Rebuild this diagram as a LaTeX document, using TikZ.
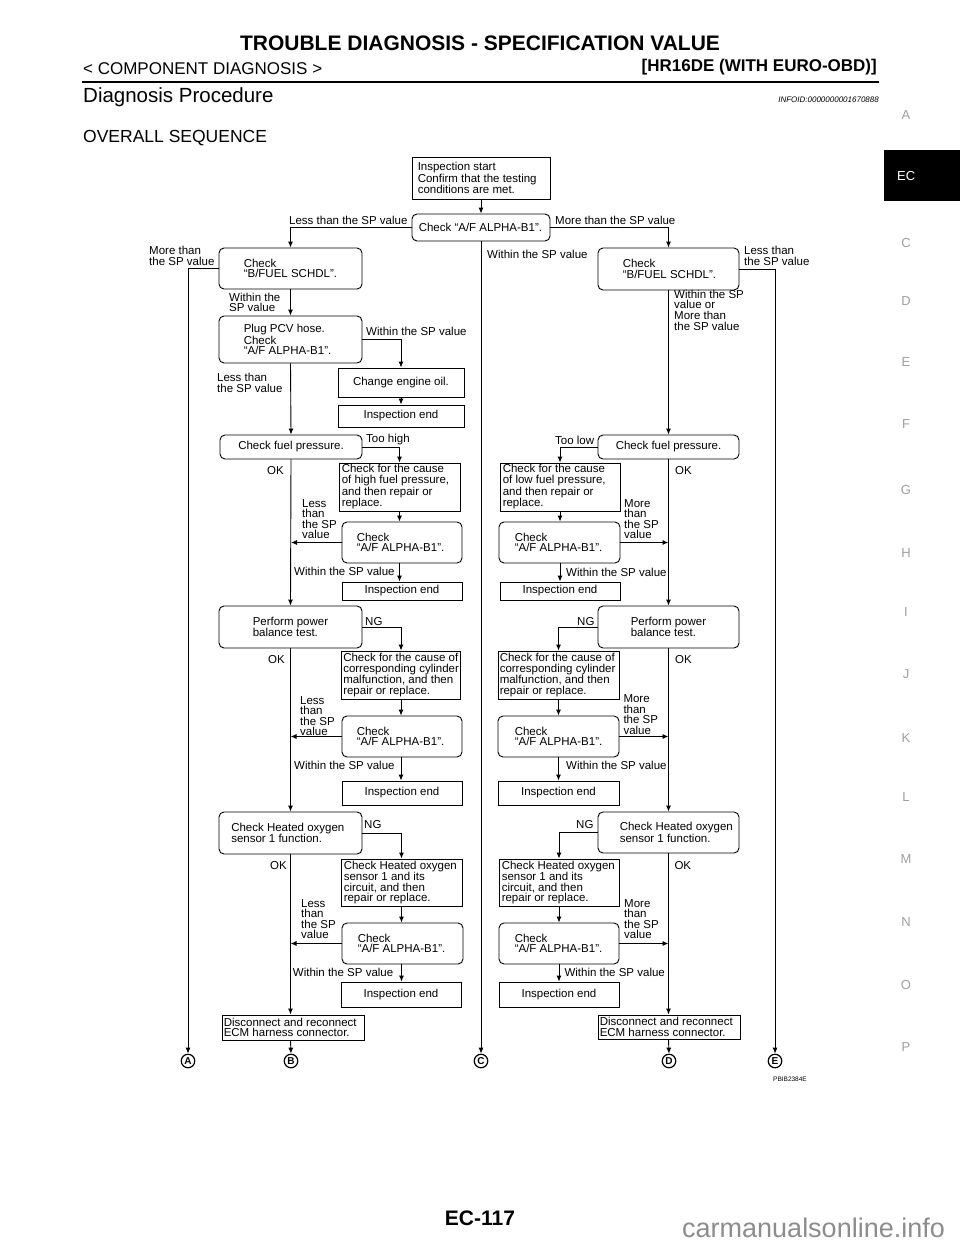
\documentclass[tikz,border=0pt]{standalone}
\usepackage{fontspec}
\setmainfont{Liberation Sans}
\usetikzlibrary{arrows.meta}
\newcommand{\ffs}{\fontsize{11.5pt}{10.6pt}\selectfont}
\begin{document}
\begin{tikzpicture}[x=1pt,y=-1pt,
  ln/.style={line width=0.9pt},
  arr/.style={line width=0.9pt,-{Latex[length=6pt,width=5pt]}},
  sbox/.style={draw,line width=0.9pt,inner sep=0pt,font=\ffs,align=center},
  rbox/.style={sbox,rounded corners=5pt},
  txt/.style={inner sep=0pt,font=\ffs,align=left},
  tl/.style 2 args={label={[txt,anchor=west,xshift=#1]west:{#2}}},
  circ/.style={draw,circle,line width=1.2pt,inner sep=0pt,minimum size=13.5pt,font=\bfseries\fontsize{10pt}{10pt}\selectfont},
  tab/.style={text=black!38,font=\fontsize{13pt}{13pt}\selectfont,inner sep=0pt},
  hd/.style={inner sep=0pt}
]
\useasboundingbox (0,0) rectangle (960,1242);
% ---------- header ----------
\node[hd,font=\bfseries\fontsize{21pt}{21pt}\selectfont] (title) at (480,43.3) {TROUBLE DIAGNOSIS - SPECIFICATION VALUE};
\node[hd,anchor=west,font=\fontsize{17pt}{17pt}\selectfont] (comp) at (83,69) {< COMPONENT DIAGNOSIS >};
\node[hd,anchor=east,font=\bfseries\fontsize{17pt}{17pt}\selectfont] (hr) at (877,67) {[HR16DE (WITH EURO-OBD)]};
\draw[line width=2pt] (82,81.5) -- (879,81.5);
\node[hd,anchor=west,font=\fontsize{20.5pt}{20.5pt}\selectfont] (diag) at (83,97) {Diagnosis Procedure};
\node[hd,anchor=east,font=\itshape\fontsize{8pt}{8pt}\selectfont] (info) at (879,100) {INFOID:0000000001670888};
\node[hd,anchor=west,font=\fontsize{17.5pt}{17.5pt}\selectfont] (overall) at (83,138) {OVERALL SEQUENCE};
% ---------- side tabs ----------
\fill[black] (884,150) rectangle (960,201);
\node[hd,anchor=west,text=white,font=\fontsize{13pt}{13pt}\selectfont] (tEC) at (897,176) {EC};
\node[tab] (tA) at (906,115) {A};
\node[tab] (tC) at (906,243) {C};
\node[tab] (tD) at (906,301) {D};
\node[tab] (tE) at (906,362) {E};
\node[tab] (tF) at (906,424) {F};
\node[tab] (tG) at (906,490) {G};
\node[tab] (tH) at (906,553) {H};
\node[tab] (tI) at (906,612) {I};
\node[tab] (tJ) at (906,674) {J};
\node[tab] (tK) at (906,738) {K};
\node[tab] (tL) at (906,797) {L};
\node[tab] (tM) at (906,859) {M};
\node[tab] (tN) at (906,922) {N};
\node[tab] (tO) at (906,985) {O};
\node[tab] (tP) at (906,1047) {P};
% ---------- footer ----------
\node[hd,font=\bfseries\fontsize{21pt}{21pt}\selectfont] (page) at (480,1218) {EC-117};
\node[hd,anchor=west,text=black!45,font=\fontsize{27pt}{27pt}\selectfont] (wm) at (682,1228) {carmanualsonline.info};
\node[hd,font=\fontsize{6.5pt}{6.5pt}\selectfont] (pbib) at (790,1079) {PBIB2384E};
% ---------- boxes: top ----------
\node[sbox,minimum width=138pt,minimum height=42pt,tl={6pt}{Inspection start\\Confirm that the testing\\conditions are met.}] (start) at (481,178) {};
\node[rbox,minimum width=138pt,minimum height=27pt,tl={7pt}{Check “A/F ALPHA-B1”.}] (chk) at (481,227.5) {};
% ---------- left column ----------
\node[rbox,minimum width=143pt,minimum height=41pt,tl={25pt}{Check\\“B/FUEL SCHDL”.}] (lfuel) at (290.5,268.5) {};
\node[rbox,minimum width=143pt,minimum height=47pt,tl={25pt}{Plug PCV hose.\\Check\\“A/F ALPHA-B1”.}] (pcv) at (290.5,339.5) {};
\node[sbox,minimum width=126pt,minimum height=29pt] (oil) at (401,382.5) {Change engine oil.};
\node[sbox,minimum width=126pt,minimum height=22pt] (iend0) at (401,416) {Inspection end};
\node[rbox,minimum width=142pt,minimum height=24pt] (lfp) at (291,447) {Check fuel pressure.};
\node[sbox,minimum width=121pt,minimum height=48pt,tl={3pt}{Check for the cause\\of high fuel pressure,\\and then repair or\\replace.}] (high) at (399.5,487) {};
\node[rbox,minimum width=120pt,minimum height=41pt,tl={15pt}{Check\\“A/F ALPHA-B1”.}] (lchk1) at (402,542.5) {};
\node[sbox,minimum width=120pt,minimum height=18pt] (lend1) at (402,591) {Inspection end};
\node[rbox,minimum width=143pt,minimum height=42pt,tl={34pt}{Perform power\\balance test.}] (lpb) at (290.5,627) {};
\node[sbox,minimum width=119pt,minimum height=48pt,tl={2pt}{Check for the cause of\\corresponding cylinder\\malfunction, and then\\repair or replace.}] (lcyl) at (401,675) {};
\node[rbox,minimum width=120pt,minimum height=41pt,tl={15pt}{Check\\“A/F ALPHA-B1”.}] (lchk2) at (402,736.5) {};
\node[sbox,minimum width=120pt,minimum height=24pt] (lend2) at (402,793) {Inspection end};
\node[rbox,minimum width=143pt,minimum height=42pt,tl={12.5pt}{Check Heated oxygen\\sensor 1 function.}] (lho2) at (290.5,833) {};
\node[sbox,minimum width=121pt,minimum height=47pt,tl={3pt}{Check Heated oxygen\\sensor 1 and its\\circuit, and then\\repair or replace.}] (lho2c) at (401.5,882.5) {};
\node[rbox,minimum width=121pt,minimum height=41pt,tl={16pt}{Check\\“A/F ALPHA-B1”.}] (lchk3) at (402.5,943.5) {};
\node[sbox,minimum width=120pt,minimum height=25pt] (lend3) at (401,994.5) {Inspection end};
\node[sbox,minimum width=142pt,minimum height=25pt,tl={2pt}{Disconnect and reconnect\\ECM harness connector.}] (ldisc) at (293,1027.5) {};
% ---------- right column ----------
\node[rbox,minimum width=141pt,minimum height=42pt,tl={25pt}{Check\\“B/FUEL SCHDL”.}] (rfuel) at (668.5,269) {};
\node[rbox,minimum width=141pt,minimum height=24pt] (rfp) at (668.5,447) {Check fuel pressure.};
\node[sbox,minimum width=120pt,minimum height=48pt,tl={3pt}{Check for the cause\\of low fuel pressure,\\and then repair or\\replace.}] (low) at (560,487) {};
\node[rbox,minimum width=121pt,minimum height=41pt,tl={16pt}{Check\\“A/F ALPHA-B1”.}] (rchk1) at (559.5,542.5) {};
\node[sbox,minimum width=120pt,minimum height=18pt] (rend1) at (560,591) {Inspection end};
\node[rbox,minimum width=141pt,minimum height=42pt,tl={33pt}{Perform power\\balance test.}] (rpb) at (668.5,627) {};
\node[sbox,minimum width=121pt,minimum height=48pt,tl={2pt}{Check for the cause of\\corresponding cylinder\\malfunction, and then\\repair or replace.}] (rcyl) at (558.5,675) {};
\node[rbox,minimum width=121pt,minimum height=41pt,tl={17pt}{Check\\“A/F ALPHA-B1”.}] (rchk2) at (558.5,736.5) {};
\node[sbox,minimum width=121pt,minimum height=24pt] (rend2) at (558.5,793) {Inspection end};
\node[rbox,minimum width=141pt,minimum height=41pt,tl={22pt}{Check Heated oxygen\\sensor 1 function.}] (rho2) at (668.5,832.5) {};
\node[sbox,minimum width=120pt,minimum height=47pt,tl={3pt}{Check Heated oxygen\\sensor 1 and its\\circuit, and then\\repair or replace.}] (rho2c) at (559,882.5) {};
\node[rbox,minimum width=120pt,minimum height=41pt,tl={16pt}{Check\\“A/F ALPHA-B1”.}] (rchk3) at (559,943.5) {};
\node[sbox,minimum width=120pt,minimum height=25pt] (rend3) at (559,994.5) {Inspection end};
\node[sbox,minimum width=142pt,minimum height=24pt,tl={2pt}{Disconnect and reconnect\\ECM harness connector.}] (rdisc) at (669,1027) {};
% ---------- off-page marks ----------
\node[circ] (A) at (188,1061) {A};
\node[circ] (B) at (291,1061) {B};
\node[circ] (C) at (481,1061) {C};
\node[circ] (D) at (669,1061) {D};
\node[circ] (E) at (775,1061) {E};
% ---------- connectors ----------
\draw[arr] (start) -- (chk);
\draw[arr] (chk.west) -| (lfuel.north);
\draw[arr] (chk.east) -| (rfuel.north);
\draw[arr] (chk.south) -- (C.north);
\draw[arr] (lfuel.west) -| (A.north);
\draw[arr] (rfuel.east) -| (E.north);
% left
\draw[arr] (lfuel.south) -- (pcv.north);
\draw[arr] (pcv.east) -| (oil.north);
\draw[arr] (oil.south) -- (iend0.north);
\draw[arr] (pcv.south) -- (lfp.north);
\draw[arr] (lfp.east) -| (high.north);
\draw[arr] (high.south) -- (high.south |- lchk1.north);
\draw[arr] (lchk1.west) -- (lchk1.west -| lfp.south);
\draw[arr] (high.south |- lchk1.south) -- (high.south |- lend1.north);
\draw[arr] (lfp.south) -- (lpb.north);
\draw[arr] (lpb.east) -| (lcyl.north);
\draw[arr] (lcyl.south) -- (lcyl.south |- lchk2.north);
\draw[arr] (lchk2.west) -- (lchk2.west -| lpb.south);
\draw[arr] (lcyl.south |- lchk2.south) -- (lcyl.south |- lend2.north);
\draw[arr] (lpb.south) -- (lho2.north);
\draw[arr] (lho2.east) -| (lho2c.north);
\draw[arr] (lho2c.south) -- (lho2c.south |- lchk3.north);
\draw[arr] (lchk3.west) -- (lchk3.west -| lho2.south);
\draw[arr] (lho2c.south |- lchk3.south) -- (lho2c.south |- lend3.north);
\draw[arr] (lho2.south) -- (lho2.south |- ldisc.north);
\draw[arr] (lho2.south |- ldisc.south) -- (B.north);
% right
\draw[arr] (rfuel.south) -- (rfp.north);
\draw[arr] (rfp.west) -| (low.north);
\draw[arr] (low.south) -- (low.south |- rchk1.north);
\draw[arr] (rchk1.east) -- (rchk1.east -| rfp.south);
\draw[arr] (low.south |- rchk1.south) -- (low.south |- rend1.north);
\draw[arr] (rfp.south) -- (rpb.north);
\draw[arr] (rpb.west) -| (rcyl.north);
\draw[arr] (rcyl.south) -- (rcyl.south |- rchk2.north);
\draw[arr] (rchk2.east) -- (rchk2.east -| rpb.south);
\draw[arr] (rcyl.south |- rchk2.south) -- (rcyl.south |- rend2.north);
\draw[arr] (rpb.south) -- (rho2.north);
\draw[arr] (rho2.west) -| (rho2c.north);
\draw[arr] (rho2c.south) -- (rho2c.south |- rchk3.north);
\draw[arr] (rchk3.east) -- (rchk3.east -| rho2.south);
\draw[arr] (rho2c.south |- rchk3.south) -- (rho2c.south |- rend3.north);
\draw[arr] (rho2.south) -- (rho2.south |- rdisc.north);
\draw[arr] (rho2.south |- rdisc.south) -- (D.north);
% ---------- labels ----------
\node[txt,anchor=west] (t1) at (289,220.5) {Less than the SP value};
\node[txt,anchor=west] (t2) at (555,220.5) {More than the SP value};
\node[txt,anchor=west] (t3) at (487,254) {Within the SP value};
\node[txt,anchor=west] (t4) at (149,256) {More than\\the SP value};
\node[txt,anchor=west] (t5) at (744,256) {Less than\\the SP value};
\node[txt,anchor=west] (t6) at (229,302.5) {Within the\\SP value};
\node[txt,anchor=west] (t7) at (674,310) {Within the SP\\value or\\More than\\the SP value};
\node[txt,anchor=west] (t8) at (366,331.5) {Within the SP value};
\node[txt,anchor=west] (t9) at (217,383) {Less than\\the SP value};
\node[txt,anchor=west] (t10) at (366,440) {Too high};
\node[txt,anchor=west] (t11) at (555,440) {Too low};
\node[txt,anchor=west] (t12) at (267,471) {OK};
\node[txt,anchor=west] (t13) at (675,471) {OK};
\node[txt,anchor=west] (t14) at (302,519) {Less\\than\\the SP\\value};
\node[txt,anchor=west] (t15) at (624,519) {More\\than\\the SP\\value};
\node[txt,anchor=west] (t16) at (294,571) {Within the SP value};
\node[txt,anchor=west] (t17) at (566,572) {Within the SP value};
\node[txt,anchor=west] (t18) at (365,621.7) {NG};
\node[txt,anchor=west] (t19) at (577,621.7) {NG};
\node[txt,anchor=west] (t20) at (268,660) {OK};
\node[txt,anchor=west] (t21) at (675,660) {OK};
\node[txt,anchor=west] (t22) at (300,716) {Less\\than\\the SP\\value};
\node[txt,anchor=west] (t23) at (623.3,714.5) {More\\than\\the SP\\value};
\node[txt,anchor=west] (t24) at (294,765.7) {Within the SP value};
\node[txt,anchor=west] (t25) at (566,765.7) {Within the SP value};
\node[txt,anchor=west] (t26) at (364,825) {NG};
\node[txt,anchor=west] (t27) at (576,825) {NG};
\node[txt,anchor=west] (t28) at (270,865.7) {OK};
\node[txt,anchor=west] (t29) at (674.3,865.7) {OK};
\node[txt,anchor=west] (t30) at (301,919) {Less\\than\\the SP\\value};
\node[txt,anchor=west] (t31) at (624,919) {More\\than\\the SP\\value};
\node[txt,anchor=west] (t32) at (292.7,972.3) {Within the SP value};
\node[txt,anchor=west] (t33) at (564.3,972.3) {Within the SP value};
\end{tikzpicture}
\end{document}
